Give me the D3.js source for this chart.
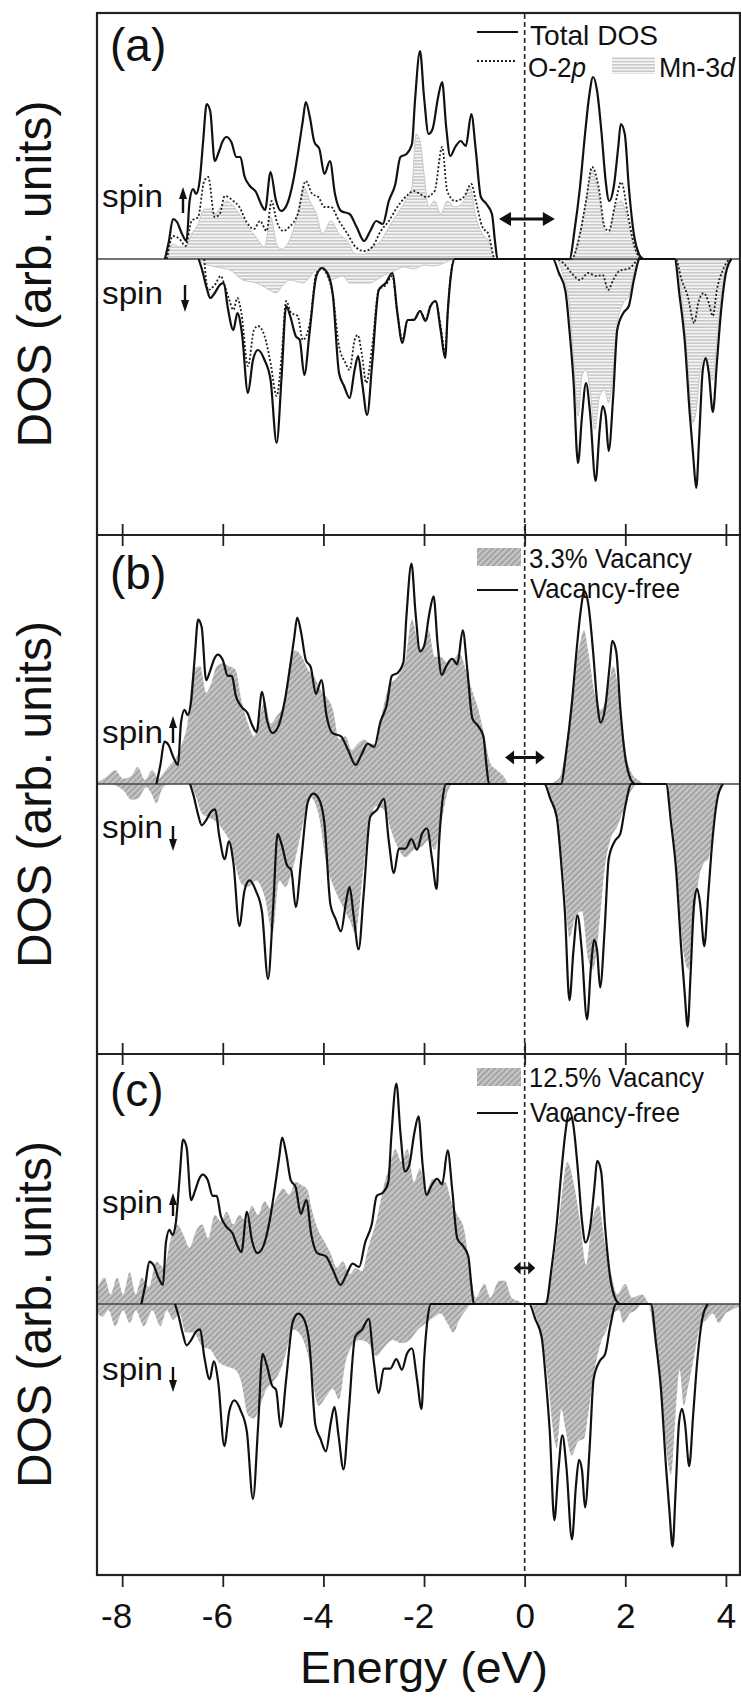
<!DOCTYPE html>
<html>
<head>
<meta charset="utf-8">
<script src="https://cdn.jsdelivr.net/npm/d3@7"></script>
<style>
    body { margin: 0; background: #fff; }
    svg text { font-family: "Liberation Sans", Arial, sans-serif; fill: #111; }
</style>
</head>
<body>
<div class="dosChart"></div>
<script>

// energy axis
const energyDomain = [-8.5, 4.28];
const energyTicks = [-8, -6, -4, -2, 0, 2, 4];

// vacancy-free curve in (b) and (c) is the total DOS, shifted in energy
const panelShift = [0, -0.17, -0.47];

// band gap arrows: [E start, E end, height]
const gapArrows = [[-0.51, 0.60, 4.0], [-0.39, 0.40, 2.5], [-0.22, 0.21, 3.4]];

// total DOS (vacancy-free), [E, DOS]
const totalUp = [[-7.15,0],[-7.07,1.8],[-6.99,4.0],[-6.91,3.7],[-6.81,2.5],[-6.72,1.8],[-6.66,5.8],[-6.59,7.0],[-6.53,6.5],[-6.46,7.8],[-6.39,11.8],[-6.32,15.5],[-6.25,14.8],[-6.16,9.8],[-6.08,10.7],[-6.0,11.8],[-5.93,12.2],[-5.83,11.7],[-5.73,10.2],[-5.65,10.2],[-5.57,8.3],[-5.46,7.3],[-5.34,6.7],[-5.24,5.5],[-5.16,4.9],[-5.05,8.7],[-4.95,6.0],[-4.84,4.8],[-4.72,5.5],[-4.60,7.8],[-4.5,10.8],[-4.41,13.8],[-4.35,15.7],[-4.27,14.2],[-4.18,11.7],[-4.08,11.0],[-3.98,8.5],[-3.87,9.8],[-3.77,6.5],[-3.65,4.8],[-3.48,4.5],[-3.34,3.2],[-3.19,1.8],[-3.07,2.8],[-2.95,3.8],[-2.82,3.5],[-2.70,5.8],[-2.57,7.5],[-2.47,10.2],[-2.35,10.5],[-2.24,11.5],[-2.18,15.8],[-2.08,20.8],[-2.0,16.2],[-1.91,12.5],[-1.83,13.0],[-1.72,16.2],[-1.64,17.7],[-1.56,13.2],[-1.48,10.3],[-1.38,11.2],[-1.27,11.8],[-1.17,11.3],[-1.06,14.5],[-0.97,10.8],[-0.87,6.2],[-0.76,5.5],[-0.65,4.5],[-0.59,1.8],[-0.54,0],
    [0.89,0],[1.0,3.2],[1.10,7.2],[1.20,12.5],[1.28,16.2],[1.36,18.2],[1.44,16.8],[1.53,12.5],[1.61,7.8],[1.68,5.8],[1.77,7.2],[1.86,11.2],[1.91,13.5],[1.99,12.5],[2.07,7.2],[2.17,2.5],[2.27,0.5],[2.35,0]];

const totalDown = [[-6.48,0],[-6.41,-1.1],[-6.32,-2.9],[-6.25,-3.9],[-6.16,-3.4],[-6.06,-2.6],[-5.98,-2.4],[-5.90,-4.9],[-5.79,-7.1],[-5.71,-5.4],[-5.62,-7.4],[-5.50,-13.4],[-5.40,-10.1],[-5.30,-9.1],[-5.17,-10.1],[-5.05,-12.1],[-4.93,-18.4],[-4.83,-11.7],[-4.74,-4.7],[-4.66,-5.7],[-4.55,-7.7],[-4.47,-8.1],[-4.38,-11.6],[-4.27,-7.1],[-4.14,-1.7],[-4.03,-0.9],[-3.92,-1.4],[-3.81,-3.7],[-3.69,-11.4],[-3.59,-12.7],[-3.48,-13.9],[-3.38,-11.1],[-3.31,-9.7],[-3.23,-12.4],[-3.13,-15.6],[-3.03,-10.4],[-2.90,-3.1],[-2.76,-2.4],[-2.63,-1.4],[-2.53,-5.4],[-2.43,-8.4],[-2.33,-6.1],[-2.20,-6.1],[-2.08,-5.2],[-1.97,-6.2],[-1.87,-4.7],[-1.77,-4.2],[-1.67,-7.1],[-1.58,-9.9],[-1.53,-5.4],[-1.46,-1.4],[-1.39,0],
    [0.56,0],[0.68,-1.4],[0.81,-3.2],[0.89,-7.1],[0.97,-12.1],[1.06,-20.4],[1.14,-15.7],[1.22,-12.4],[1.30,-15.4],[1.41,-22.2],[1.49,-17.1],[1.55,-14.7],[1.61,-15.7],[1.67,-19.2],[1.76,-13.7],[1.84,-7.1],[1.96,-5.4],[2.07,-4.7],[2.17,-2.1],[2.29,0],
    [2.98,0],[3.08,-3.7],[3.18,-8.1],[3.28,-15.4],[3.35,-19.7],[3.41,-22.9],[3.47,-17.7],[3.54,-11.1],[3.60,-9.9],[3.66,-11.4],[3.74,-15.3],[3.82,-10.4],[3.90,-5.4],[4.0,-1.4],[4.11,0]];

// O-2p partial DOS
const o2pUp = [[-7.11,0],[-6.99,2.3],[-6.86,2.0],[-6.74,1.3],[-6.62,3.8],[-6.49,4.2],[-6.37,7.8],[-6.29,8.2],[-6.16,4.2],[-6.06,4.5],[-5.96,6.3],[-5.79,5.8],[-5.67,5.2],[-5.54,3.8],[-5.38,3.0],[-5.26,3.8],[-5.13,2.8],[-5.03,5.8],[-4.93,3.8],[-4.80,2.8],[-4.68,3.2],[-4.51,4.5],[-4.35,7.8],[-4.22,6.5],[-4.10,6.2],[-3.98,5.2],[-3.85,5.2],[-3.69,3.8],[-3.52,2.5],[-3.36,1.2],[-3.19,0.8],[-3.03,1.2],[-2.86,2.8],[-2.70,3.8],[-2.53,5.2],[-2.37,6.2],[-2.20,6.8],[-2.08,6.5],[-1.96,6.2],[-1.79,6.8],[-1.64,11.2],[-1.54,6.8],[-1.38,5.8],[-1.21,6.2],[-1.06,7.5],[-0.97,5.8],[-0.84,3.2],[-0.72,2.5],[-0.59,0],
    [0.93,0],[1.10,2.5],[1.22,5.8],[1.34,9.2],[1.47,7.2],[1.59,3.2],[1.67,2.8],[1.80,5.5],[1.92,7.7],[2.05,4.5],[2.17,1.5],[2.29,0]];

const o2pDown = [[-6.37,0],[-6.29,-3.1],[-6.16,-2.6],[-6.04,-1.7],[-5.96,-2.7],[-5.87,-4.1],[-5.79,-5.1],[-5.71,-3.9],[-5.63,-5.4],[-5.50,-10.7],[-5.38,-7.1],[-5.30,-6.7],[-5.17,-7.7],[-5.05,-10.4],[-4.93,-13.7],[-4.83,-9.7],[-4.74,-4.2],[-4.64,-5.4],[-4.51,-5.7],[-4.41,-8.1],[-4.27,-6.4],[-4.14,-1.4],[-4.03,-1.0],[-3.92,-1.6],[-3.81,-3.7],[-3.69,-8.7],[-3.56,-10.4],[-3.48,-11.1],[-3.38,-8.1],[-3.32,-7.6],[-3.23,-9.7],[-3.15,-12.4],[-3.03,-8.7],[-2.90,-3.1],[-2.76,-2.6],[-2.63,-1.7],[-2.53,-5.4],[-2.43,-8.1],[-2.33,-6.1],[-2.20,-6.0],[-2.08,-5.2],[-1.97,-6.1],[-1.87,-4.6],[-1.77,-4.3],[-1.67,-6.7],[-1.58,-9.4],[-1.53,-5.4],[-1.46,-1.2],[-1.39,0],
    [0.60,0],[0.77,-0.4],[0.93,-1.4],[1.10,-2.1],[1.26,-1.4],[1.43,-1.7],[1.55,-1.6],[1.66,-3.1],[1.76,-2.1],[1.88,-1.2],[2.09,-0.9],[2.29,0],
    [3.0,0],[3.12,-2.1],[3.24,-3.7],[3.37,-6.4],[3.45,-4.4],[3.56,-3.4],[3.66,-4.4],[3.74,-5.7],[3.82,-3.1],[3.94,-1.1],[4.07,0]];

// Mn-3d partial DOS
const mn3dUp = [[-7.11,0],[-6.99,1.5],[-6.86,1.2],[-6.74,1.2],[-6.62,2.5],[-6.49,3.5],[-6.37,5.0],[-6.25,5.0],[-6.16,4.5],[-6.04,5.2],[-5.92,5.8],[-5.79,5.3],[-5.67,4.5],[-5.50,3.2],[-5.34,2.2],[-5.17,1.2],[-5.05,4.2],[-4.93,1.5],[-4.84,1.0],[-4.68,1.8],[-4.51,4.5],[-4.39,7.2],[-4.27,5.8],[-4.14,4.5],[-4.02,2.5],[-3.85,3.8],[-3.69,2.5],[-3.52,1.8],[-3.36,0.5],[-3.19,0.5],[-3.03,1.2],[-2.86,1.8],[-2.70,3.2],[-2.53,4.5],[-2.37,5.8],[-2.24,7.2],[-2.16,12.5],[-2.08,11.8],[-2.00,8.5],[-1.91,5.2],[-1.79,5.8],[-1.67,4.5],[-1.54,5.8],[-1.38,5.2],[-1.21,5.8],[-1.09,7.2],[-0.97,4.2],[-0.84,2.5],[-0.72,1.8],[-0.59,0],
    [0.93,0],[1.10,2.8],[1.22,5.8],[1.34,8.8],[1.47,6.5],[1.59,2.8],[1.67,2.5],[1.80,5.2],[1.92,5.8],[2.05,3.8],[2.17,1.2],[2.29,0]];

const mn3dDown = [[-6.45,0],[-6.39,-0.4],[-6.13,-0.8],[-5.86,-1.1],[-5.60,-2.1],[-5.33,-2.4],[-5.07,-3.1],[-4.94,-3.4],[-4.80,-2.6],[-4.67,-2.1],[-4.41,-2.4],[-4.15,-1.1],[-4.03,-0.8],[-3.88,-2.1],[-3.62,-1.7],[-3.48,-2.4],[-3.35,-2.4],[-3.09,-2.4],[-2.82,-1.7],[-2.60,-1.2],[-2.40,-0.8],[-2.20,-1.0],[-2.00,-0.6],[-1.80,-0.7],[-1.60,-0.4],[-1.39,0],
    [0.60,0],[0.77,-1.7],[0.89,-4.7],[0.97,-9.7],[1.06,-15.7],[1.14,-11.7],[1.22,-11.1],[1.30,-13.1],[1.39,-17.1],[1.49,-13.7],[1.59,-13.1],[1.67,-14.4],[1.76,-11.1],[1.84,-6.4],[1.96,-4.4],[2.07,-3.7],[2.17,-1.4],[2.29,0],
    [3.0,0],[3.12,-3.7],[3.24,-10.4],[3.34,-16.4],[3.41,-15.1],[3.49,-11.1],[3.57,-9.7],[3.66,-11.1],[3.74,-12.1],[3.82,-8.1],[3.94,-2.4],[4.11,0]];

// 3.3% vacancy
const vac33Up = [[-8.5,0.1],[-8.47,0.2],[-8.31,0.7],[-8.14,1.3],[-7.98,0.5],[-7.81,0.8],[-7.69,1.6],[-7.55,0.4],[-7.40,1.3],[-7.28,0.5],[-7.15,1.2],[-7.03,1.9],[-6.91,2.6],[-6.81,3.8],[-6.70,5.7],[-6.58,10.8],[-6.45,11.1],[-6.33,8.6],[-6.23,9.5],[-6.12,11.1],[-6.00,11.4],[-5.87,11.1],[-5.75,10.8],[-5.63,7.9],[-5.50,5.7],[-5.38,4.5],[-5.26,6.4],[-5.17,7.9],[-5.05,5.7],[-4.93,6.4],[-4.80,7.3],[-4.68,11.1],[-4.55,12.6],[-4.43,12.0],[-4.31,10.8],[-4.18,10.1],[-4.06,8.9],[-3.94,8.2],[-3.81,7.0],[-3.69,4.2],[-3.56,4.5],[-3.44,3.2],[-3.32,3.8],[-3.19,4.2],[-3.07,3.8],[-2.95,3.8],[-2.82,7.0],[-2.70,9.2],[-2.53,10.1],[-2.37,11.7],[-2.24,15.5],[-2.12,13.3],[-2.02,12.6],[-1.91,14.5],[-1.79,12.0],[-1.67,12.0],[-1.54,11.4],[-1.42,11.7],[-1.30,12.3],[-1.17,10.8],[-1.05,8.9],[-0.92,7.0],[-0.80,4.5],[-0.68,1.9],[-0.55,1.3],[-0.43,0.8],[-0.31,0],
    [0.44,0],[0.68,0.5],[0.81,3.2],[0.93,8.2],[1.01,11.1],[1.10,13.3],[1.18,14.5],[1.26,12.6],[1.39,8.6],[1.51,7.0],[1.63,8.2],[1.76,11.1],[1.88,8.2],[2.0,3.2],[2.13,1.0],[2.25,0.4],[2.38,0]];

const vac33Down = [[-8.2,0],[-7.98,-0.6],[-7.81,-1.5],[-7.69,-1.4],[-7.52,-0.3],[-7.42,-0.9],[-7.32,-1.8],[-7.2,-0.4],[-7.07,0],
    [-6.66,0],[-6.53,-1.2],[-6.41,-2.8],[-6.25,-3.2],[-6.12,-3.6],[-6.0,-4.3],[-5.83,-5.9],[-5.71,-8.4],[-5.63,-9.4],[-5.50,-9.7],[-5.34,-9.1],[-5.17,-10.6],[-5.01,-14.1],[-4.88,-9.1],[-4.76,-9.7],[-4.60,-7.8],[-4.43,-4.3],[-4.27,-1.2],[-4.10,-2.8],[-3.94,-7.5],[-3.77,-10.0],[-3.61,-11.6],[-3.48,-12.8],[-3.36,-14.1],[-3.23,-9.1],[-3.11,-4.3],[-2.95,-2.1],[-2.78,-2.5],[-2.66,-4.3],[-2.53,-5.9],[-2.37,-6.9],[-2.20,-6.2],[-2.04,-5.9],[-1.91,-5.3],[-1.79,-6.2],[-1.67,-4.0],[-1.54,-0.9],[-1.42,0],
    [0.40,0],[0.52,-1.5],[0.64,-3.4],[0.77,-8.4],[0.89,-14.5],[1.01,-12.5],[1.14,-12.0],[1.26,-16.5],[1.36,-17.5],[1.47,-14.0],[1.59,-8.0],[1.72,-5.0],[1.84,-4.0],[1.96,-2.5],[2.09,-0.9],[2.25,0],
    [2.79,0],[2.91,-2.8],[3.04,-9.1],[3.16,-16.0],[3.26,-17.5],[3.36,-13.0],[3.46,-9.0],[3.56,-7.5],[3.66,-7.0],[3.78,-2.8],[3.90,-0.3],[3.99,0]];

// 12.5% vacancy
const vac125Up = [[-8.5,1.4],[-8.35,2.5],[-8.23,0.9],[-8.10,2.5],[-7.98,0.9],[-7.85,3.0],[-7.73,0.9],[-7.61,2.5],[-7.47,1.6],[-7.32,4.0],[-7.17,3.4],[-7.03,6.2],[-6.91,7.5],[-6.78,6.5],[-6.66,5.3],[-6.53,6.9],[-6.41,7.5],[-6.29,6.2],[-6.16,8.4],[-6.04,7.8],[-5.92,8.7],[-5.79,7.5],[-5.67,8.4],[-5.54,7.8],[-5.42,9.3],[-5.30,8.4],[-5.17,9.7],[-5.05,9.0],[-4.93,10.0],[-4.80,10.9],[-4.68,10.3],[-4.55,11.5],[-4.43,11.2],[-4.33,10.9],[-4.22,8.7],[-4.10,6.9],[-3.98,5.9],[-3.85,4.7],[-3.73,3.4],[-3.61,4.0],[-3.48,2.8],[-3.36,3.4],[-3.23,3.1],[-3.11,5.3],[-2.95,7.8],[-2.78,11.5],[-2.66,13.4],[-2.57,14.6],[-2.45,13.4],[-2.33,14.6],[-2.20,11.5],[-2.08,12.8],[-1.96,10.6],[-1.83,11.8],[-1.71,11.5],[-1.58,11.5],[-1.46,9.7],[-1.34,8.4],[-1.21,7.2],[-1.09,3.4],[-0.97,0.6],[-0.80,1.9],[-0.68,0.6],[-0.51,2.2],[-0.39,2.2],[-0.26,0.6],[-0.14,0.3],[0.02,0],
    [0.35,0],[0.52,2.2],[0.68,7.8],[0.85,13.4],[0.97,11.5],[1.10,7.8],[1.22,3.7],[1.34,7.8],[1.47,9.3],[1.59,5.9],[1.72,2.8],[1.84,0.9],[2.0,1.9],[2.13,0.6],[2.33,0.9],[2.46,0]];

const vac125Down = [[-8.5,-0.8],[-8.39,-1.2],[-8.27,-0.6],[-8.14,-2.1],[-7.98,-0.6],[-7.85,-1.8],[-7.73,-0.6],[-7.57,-2.1],[-7.40,-0.6],[-7.24,-2.1],[-7.11,-0.6],[-6.99,-1.5],[-6.86,-0.9],[-6.74,-2.7],[-6.58,-2.7],[-6.41,-4.0],[-6.25,-4.3],[-6.08,-5.5],[-5.92,-5.9],[-5.75,-6.2],[-5.63,-7.4],[-5.50,-10.5],[-5.38,-10.8],[-5.26,-9.6],[-5.13,-8.0],[-5.01,-7.4],[-4.88,-6.5],[-4.76,-4.9],[-4.60,-2.4],[-4.43,-3.1],[-4.27,-5.5],[-4.10,-9.6],[-3.94,-8.7],[-3.81,-8.0],[-3.69,-9.0],[-3.56,-5.5],[-3.44,-4.0],[-3.28,-3.4],[-3.11,-3.7],[-2.95,-4.9],[-2.78,-4.0],[-2.62,-3.4],[-2.45,-3.7],[-2.29,-3.4],[-2.12,-2.4],[-1.96,-1.8],[-1.79,-1.2],[-1.67,-0.9],[-1.54,-1.8],[-1.42,-2.7],[-1.30,-1.5],[-1.17,-0.6],[-1.05,0],
    [0.11,0],[0.23,-1.2],[0.35,-3.4],[0.48,-8.0],[0.56,-11.8],[0.64,-13.6],[0.73,-9.9],[0.81,-11.8],[0.93,-14.3],[1.06,-13.0],[1.18,-12.7],[1.26,-10.5],[1.39,-6.2],[1.51,-3.7],[1.63,-2.4],[1.76,-0.9],[1.88,-0.6],[1.96,-1.8],[2.09,-0.9],[2.21,-0.6],[2.33,0],
    [2.46,0],[2.58,-3.4],[2.71,-8.0],[2.83,-14.3],[2.91,-16.1],[2.99,-11.2],[3.08,-6.2],[3.16,-9.6],[3.24,-8.0],[3.37,-4.9],[3.49,-2.1],[3.61,-1.5],[3.74,-0.9],[3.86,-1.8],[3.99,-0.9],[4.11,-0.6],[4.28,-0.2]];


class DosFigure {

    constructor() {
        this.width = 741;
        this.height = 1702;
        this.left = 97;
        this.right = 740;

        this.panels = [
            {name: "(a)", top: 13, zero: 259, bottom: 535, unit: 10, nameY: 61,
             fills: [[mn3dUp, "url(#mnHatch)"], [mn3dDown, "url(#mnHatch)"]],
             gapHead: [12, 7],
             spin: {up: 207, upArrow: [183, 213, 187], down: 304, downArrow: [185, 285, 312]}},
            {name: "(b)", top: 535, zero: 784, bottom: 1054, unit: 10.6, nameY: 589,
             fills: [[vac33Up, "url(#vacHatch)"], [vac33Down, "url(#vacHatch)"]],
             gapHead: [9, 7],
             spin: {up: 743, upArrow: [173, 743, 716], down: 838, downArrow: [173, 826, 851]}},
            {name: "(c)", top: 1054, zero: 1304, bottom: 1575, unit: 10.6, nameY: 1106,
             fills: [[vac125Up, "url(#vacHatch)"], [vac125Down, "url(#vacHatch)"]],
             gapHead: [7, 6.5],
             spin: {up: 1213, upArrow: [173, 1216, 1193], down: 1380, downArrow: [173, 1367, 1392]}}
        ];

        this.x = d3.scaleLinear().domain(energyDomain).range([this.left, this.right]);
        for (let p of this.panels) {
            p.y = d3.scaleLinear()
                .domain([-(p.bottom - p.zero) / p.unit, (p.zero - p.top) / p.unit])
                .range([p.bottom, p.top]);
        }

        this.drawChart();
    }

    drawChart() {
        let that = this;
        let svg = d3.select(".dosChart").append("svg")
            .attr("width", this.width)
            .attr("height", this.height);
        this.svg = svg;
        this.addDefs();

        this.panels.forEach(function(p, i) {
            that.drawPanel(p, i);
        });

        // E = 0 dashed line through all panels
        svg.append("line")
            .attr("x1", this.x(0)).attr("x2", this.x(0))
            .attr("y1", 14).attr("y2", 1575)
            .attr("stroke", "#222").attr("stroke-width", 1.6)
            .attr("stroke-dasharray", "5,3");

        this.drawFrame();
        this.drawLegends();
        this.drawLabels();
    }

    addDefs() {
        let defs = this.svg.append("defs");

        let mn = defs.append("pattern").attr("id", "mnHatch")
            .attr("patternUnits", "userSpaceOnUse")
            .attr("width", 8).attr("height", 3.2);
        mn.append("rect").attr("width", 8).attr("height", 3.2).attr("fill", "#f6f6f6");
        mn.append("line").attr("x1", 0).attr("x2", 8).attr("y1", 0.8).attr("y2", 0.8)
            .attr("stroke", "#b4b4b4").attr("stroke-width", 1.1);

        let vac = defs.append("pattern").attr("id", "vacHatch")
            .attr("patternUnits", "userSpaceOnUse")
            .attr("width", 4.2).attr("height", 4.2)
            .attr("patternTransform", "rotate(45)");
        vac.append("rect").attr("width", 4.2).attr("height", 4.2).attr("fill", "#c3c3c3");
        vac.append("line").attr("x1", 1).attr("x2", 1).attr("y1", 0).attr("y2", 4.2)
            .attr("stroke", "#979797").attr("stroke-width", 1.3);

        this.panels.forEach(function(p, i) {
            defs.append("clipPath").attr("id", "clip" + i)
                .append("rect")
                .attr("x", 97).attr("y", p.top)
                .attr("width", 643).attr("height", p.bottom - p.top);
        });
    }

    drawPanel(p, i) {
        let x = this.x;
        let y = p.y;
        let shift = panelShift[i];
        let g = this.svg.append("g").attr("clip-path", "url(#clip" + i + ")");

        let area = d3.area().curve(d3.curveMonotoneX)
            .x(d => x(d[0]))
            .y0(y(0))
            .y1(d => y(d[1]));

        g.selectAll("path.fill")
            .data(p.fills)
            .join("path")
            .attr("class", "fill")
            .attr("d", d => area(d[0]))
            .attr("fill", d => d[1])
            .attr("stroke", i === 0 ? "#c8c8c8" : "none")
            .attr("stroke-width", 1);

        // zero line
        g.append("line")
            .attr("x1", this.left).attr("x2", this.right)
            .attr("y1", y(0)).attr("y2", y(0))
            .attr("stroke", "#444").attr("stroke-width", 1.6);

        let line = d3.line().curve(d3.curveMonotoneX)
            .x(d => x(d[0] + shift))
            .y(d => y(d[1]));

        if (i === 0) {
            g.selectAll("path.o2p")
                .data([o2pUp, o2pDown])
                .join("path")
                .attr("class", "o2p")
                .attr("d", line)
                .attr("fill", "none")
                .attr("stroke", "#222")
                .attr("stroke-width", 1.8)
                .attr("stroke-dasharray", "2,2");
        }

        g.selectAll("path.total")
            .data([totalUp, totalDown])
            .join("path")
            .attr("class", "total")
            .attr("d", line)
            .attr("fill", "none")
            .attr("stroke", "#111")
            .attr("stroke-width", 2.2)
            .attr("stroke-linejoin", "round");

        // band gap arrow
        let gap = gapArrows[i];
        let ay = y(gap[2]), x1 = x(gap[0]), x2 = x(gap[1]);
        let hl = p.gapHead[0], hw = p.gapHead[1];
        this.svg.append("line")
            .attr("x1", x1 + 3).attr("x2", x2 - 3)
            .attr("y1", ay).attr("y2", ay)
            .attr("stroke", "#111").attr("stroke-width", 2.8);
        this.svg.append("path")
            .attr("d", `M${x1},${ay}L${x1 + hl},${ay - hw}L${x1 + hl},${ay + hw}Z` +
                       `M${x2},${ay}L${x2 - hl},${ay - hw}L${x2 - hl},${ay + hw}Z`)
            .attr("fill", "#111");

        // panel name
        this.svg.append("text")
            .attr("x", 110).attr("y", p.nameY)
            .attr("font-size", 46)
            .text(p.name);

        // spin labels
        this.svg.append("text").attr("x", 102).attr("y", p.spin.up)
            .attr("font-size", 32).attr("textLength", 61).attr("lengthAdjust", "spacingAndGlyphs")
            .text("spin");
        this.svg.append("text").attr("x", 102).attr("y", p.spin.down)
            .attr("font-size", 32).attr("textLength", 61).attr("lengthAdjust", "spacingAndGlyphs")
            .text("spin");
        this.spinArrow(p.spin.upArrow);
        this.spinArrow(p.spin.downArrow);
    }

    spinArrow(a) {
        let ax = a[0], tail = a[1], head = a[2];
        let dir = head < tail ? -1 : 1;
        this.svg.append("line")
            .attr("x1", ax).attr("x2", ax)
            .attr("y1", tail).attr("y2", head - dir * 6)
            .attr("stroke", "#111").attr("stroke-width", 2.4);
        this.svg.append("path")
            .attr("d", `M${ax - 4},${head - dir * 12}L${ax + 4},${head - dir * 12}L${ax},${head}Z`)
            .attr("fill", "#111");
    }

    drawFrame() {
        let svg = this.svg;
        let x = this.x;

        svg.append("rect")
            .attr("x", this.left).attr("y", 13)
            .attr("width", this.right - this.left).attr("height", 1575 - 13)
            .attr("fill", "none").attr("stroke", "#222").attr("stroke-width", 2.2);

        for (let yb of [535, 1054]) {
            svg.append("line")
                .attr("x1", this.left).attr("x2", this.right)
                .attr("y1", yb).attr("y2", yb)
                .attr("stroke", "#222").attr("stroke-width", 2.2);
            let up = svg.append("g").attr("transform", `translate(0,${yb})`)
                .call(d3.axisTop(x).tickValues(energyTicks).tickSize(11).tickFormat(""));
            let dn = svg.append("g").attr("transform", `translate(0,${yb})`)
                .call(d3.axisBottom(x).tickValues(energyTicks).tickSize(11).tickFormat(""));
            for (let ax of [up, dn]) {
                ax.select(".domain").remove();
                ax.selectAll("line").attr("stroke", "#222").attr("stroke-width", 1.8);
            }
        }

        let bottomAxis = svg.append("g").attr("transform", "translate(0,1575)")
            .call(d3.axisBottom(x).tickValues(energyTicks).tickSize(12).tickPadding(16)
                .tickFormat(d => String(d)));
        bottomAxis.select(".domain").remove();
        bottomAxis.selectAll("line").attr("stroke", "#222").attr("stroke-width", 1.8);
        bottomAxis.selectAll("text")
            .attr("font-family", "Liberation Sans, Arial, sans-serif")
            .attr("font-size", 35)
            .attr("fill", "#111")
            .attr("dx", d => d < 0 ? -6 : 0);
    }

    drawLegends() {
        let svg = this.svg;

        // (a)
        svg.append("line").attr("x1", 477).attr("x2", 518).attr("y1", 32).attr("y2", 32)
            .attr("stroke", "#111").attr("stroke-width", 2);
        svg.append("text").attr("x", 530).attr("y", 45).attr("font-size", 28)
            .attr("textLength", 128).attr("lengthAdjust", "spacingAndGlyphs")
            .text("Total DOS");
        svg.append("line").attr("x1", 477).attr("x2", 517).attr("y1", 61).attr("y2", 61)
            .attr("stroke", "#222").attr("stroke-width", 1.8).attr("stroke-dasharray", "2,2");
        let o = svg.append("text").attr("x", 528).attr("y", 77).attr("font-size", 28)
            .attr("textLength", 58).attr("lengthAdjust", "spacingAndGlyphs");
        o.append("tspan").text("O-2");
        o.append("tspan").attr("font-style", "italic").text("p");
        svg.append("rect").attr("x", 612).attr("y", 57).attr("width", 43).attr("height", 17)
            .attr("fill", "url(#mnHatch)");
        let m = svg.append("text").attr("x", 659).attr("y", 77).attr("font-size", 28)
            .attr("textLength", 76).attr("lengthAdjust", "spacingAndGlyphs");
        m.append("tspan").text("Mn-3");
        m.append("tspan").attr("font-style", "italic").text("d");

        // (b) and (c)
        let vacLegend = [
            {label: "3.3% Vacancy", rectY: 548, textY: 568, len: 163, lineY: 590, freeY: 598},
            {label: "12.5% Vacancy", rectY: 1068, textY: 1087, len: 175, lineY: 1113, freeY: 1122}
        ];
        for (let l of vacLegend) {
            svg.append("rect").attr("x", 477).attr("y", l.rectY).attr("width", 44).attr("height", 18)
                .attr("fill", "url(#vacHatch)");
            svg.append("text").attr("x", 529).attr("y", l.textY).attr("font-size", 28)
                .attr("textLength", l.len).attr("lengthAdjust", "spacingAndGlyphs")
                .text(l.label);
            svg.append("line").attr("x1", 477).attr("x2", 518).attr("y1", l.lineY).attr("y2", l.lineY)
                .attr("stroke", "#111").attr("stroke-width", 2);
            svg.append("text").attr("x", 530).attr("y", l.freeY).attr("font-size", 28)
                .attr("textLength", 150).attr("lengthAdjust", "spacingAndGlyphs")
                .text("Vacancy-free");
        }
    }

    drawLabels() {
        let svg = this.svg;
        for (let p of this.panels) {
            let cy = (p.top + p.bottom) / 2;
            svg.append("text")
                .attr("transform", `translate(51,${cy}) rotate(-90)`)
                .attr("text-anchor", "middle")
                .attr("font-size", 48)
                .text("DOS (arb. units)");
        }
        svg.append("text")
            .attr("x", 424).attr("y", 1683)
            .attr("text-anchor", "middle")
            .attr("font-size", 44)
            .attr("textLength", 248).attr("lengthAdjust", "spacingAndGlyphs")
            .text("Energy (eV)");
    }
}

new DosFigure();
</script>
</body>
</html>
